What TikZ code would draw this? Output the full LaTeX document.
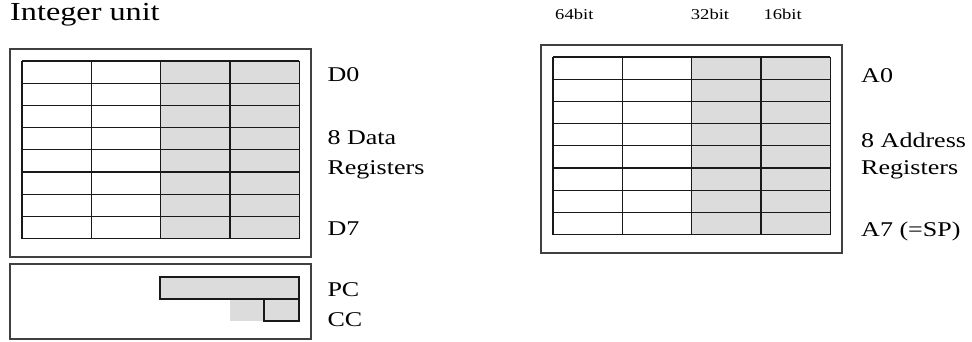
\documentclass[tikz,border=0pt]{standalone}
\usepackage{fontspec}
\setmainfont[FakeStretch=1.24]{Liberation Serif}
\definecolor{cellgray}{RGB}{220,220,220}

\tikzset{
  regline/.style={line width=1.3pt, black!90},
  frameline/.style={line width=1.4pt, black!75},
  lbl/.style={anchor=base west, inner sep=0pt, font=\fontsize{21}{25}\selectfont},
  bitlbl/.style={anchor=base west, inner sep=0pt, font=\fontsize{15}{18}\selectfont},
}

\begin{document}
\begin{tikzpicture}[x=1pt,y=-1pt]
    \useasboundingbox (0,0) rectangle (972,342);
    \node[anchor=base west, inner sep=0pt, font=\fontsize{26}{30}\selectfont] (title) at (10,20.7) {Integer unit};
    \node[bitlbl] (b64) at (555,20) {64bit};
    \node[bitlbl] (b32) at (690.7,20) {32bit};
    \node[bitlbl] (b16) at (763.3,20) {16bit};
    % data registers
    \begin{scope}[shift={(22,61)}]
      \draw[frameline] (-12,-12) rectangle (289,196);
      \fill[cellgray] (138.6,0) rectangle (277.3,177.6);
      \foreach \r in {0,...,8}
        \draw[regline] (0,22.2*\r) -- (277.3,22.2*\r);
      \foreach \c in {0,69.3,138.6,208,277.3}
        \draw[regline] (\c,0) -- (\c,177.6);
    \end{scope}
    \node[lbl] (d0) at (327.3,81.7) {D0};
    \node[lbl] (dnum) at (327.3,145) {8 Data};
    \node[lbl] (dreg) at (327.3,175) {Registers};
    \node[lbl] (d7) at (327.3,235.7) {D7};
    % address registers
    \begin{scope}[shift={(553,57)}]
      \draw[frameline] (-12,-12) rectangle (289,196);
      \fill[cellgray] (138.6,0) rectangle (277.3,177.6);
      \foreach \r in {0,...,8}
        \draw[regline] (0,22.2*\r) -- (277.3,22.2*\r);
      \foreach \c in {0,69.3,138.6,208,277.3}
        \draw[regline] (\c,0) -- (\c,177.6);
    \end{scope}
    \node[lbl] (a0) at (861,82.3) {A0};
    \node[lbl] (anum) at (861,148) {8 Address};
    \node[lbl] (areg) at (861,175) {Registers};
    \node[lbl] (a7) at (861,236.7) {A7 (=SP)};
    % program counter and condition codes
    \draw[frameline] (10,264) rectangle (311,339);
    \fill[cellgray] (230,299) rectangle (299,321);
    \draw[regline, fill=cellgray] (160,277) rectangle (299,299);
    \draw[regline] (264,299) -- (264,321) -- (299,321) -- (299,299);
    \node[lbl] (pc) at (327.3,296.7) {PC};
    \node[lbl] (cc) at (327.3,326.7) {CC};
\end{tikzpicture}
\end{document}
